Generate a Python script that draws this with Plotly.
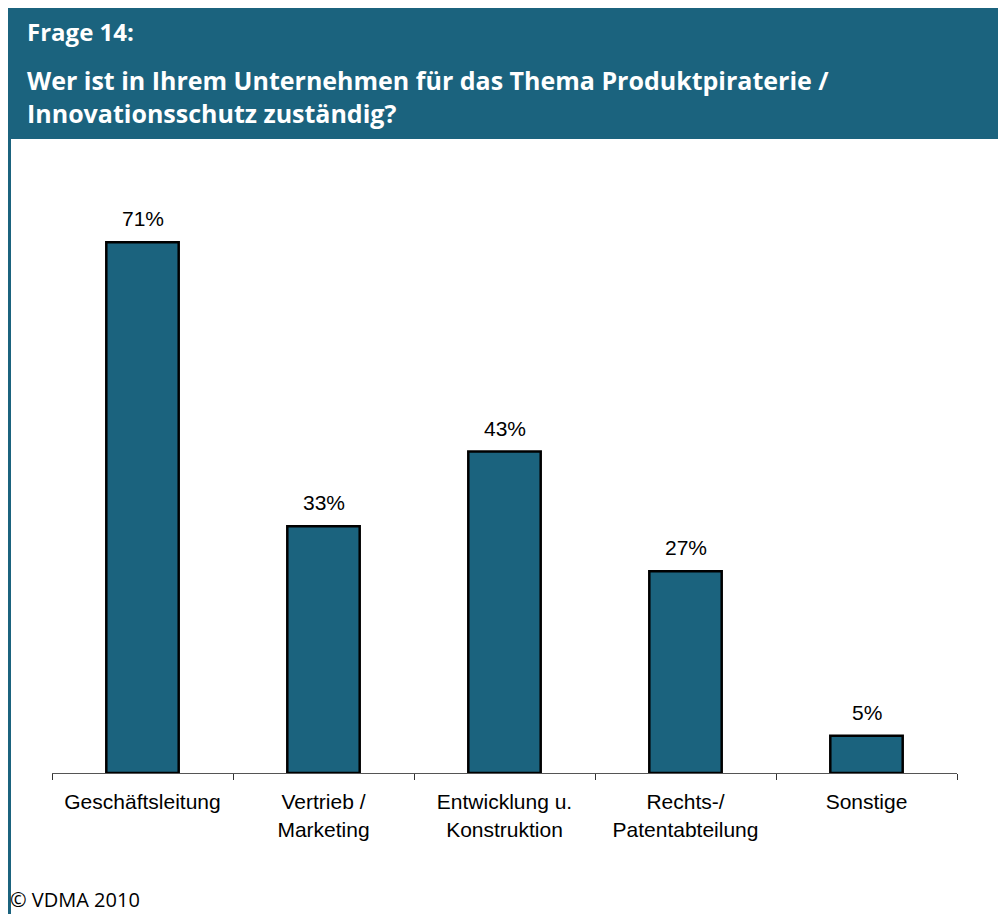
import plotly.graph_objects as go

categories = ["Geschäftsleitung", "Vertrieb /<br>Marketing", "Entwicklung u.<br>Konstruktion",
              "Rechts-/<br>Patentabteilung", "Sonstige"]
values = [71, 33, 43, 27, 5]
value_labels = ["71%", "33%", "43%", "27%", "5%"]

# the page body has an 8px margin, so the figure is sized to fit the window
OFF = 8
W, H = 1006 - OFF, 914 - OFF
BLUE = "#1b637e"


def px_x(x):
    return (x - OFF) / W


def px_y(y):
    return 1 - (y - OFF) / H


fig = go.Figure()
fig.add_trace(go.Bar(
    x=categories, y=values, width=0.4,
    marker=dict(color=BLUE, line=dict(color="black", width=2.5)),
    hoverinfo="skip", showlegend=False,
))

label_font = "Liberation Sans, Arial, sans-serif"
annotations = []
for c, v, t in zip(categories, values, value_labels):
    annotations.append(dict(x=c, y=v, xref="x", yref="y", text=t, showarrow=False,
                            yanchor="bottom", yshift=10,
                            font=dict(family=label_font, size=21, color="black")))

title_font = "Open Sans, Noto Sans, sans-serif"
annotations.append(dict(x=px_x(25), y=px_y(31), xref="paper", yref="paper", xanchor="left",
                        yanchor="middle", showarrow=False, text="<b>Frage 14:</b>",
                        font=dict(family=title_font, size=24, color="white")))
annotations.append(dict(x=px_x(25), y=px_y(96), xref="paper", yref="paper", xanchor="left",
                        yanchor="middle", showarrow=False, align="left",
                        text="<b>Wer ist in Ihrem Unternehmen für das Thema Produktpiraterie /<br>Innovationsschutz zuständig?</b>",
                        font=dict(family=title_font, size=25, color="white")))
annotations.append(dict(x=px_x(9), y=0, xref="paper", yref="paper", xanchor="left",
                        yanchor="bottom", showarrow=False, text="© VDMA 2010", borderpad=0,
                        font=dict(family=title_font, size=20, color="black")))

shapes = [
    dict(type="rect", xref="paper", yref="paper", x0=px_x(8), x1=px_x(1003), y0=px_y(139), y1=1,
         fillcolor=BLUE, line=dict(width=0), layer="below"),
    dict(type="line", xref="paper", yref="paper", x0=px_x(9.5), x1=px_x(9.5), y0=px_y(139), y1=0,
         line=dict(color=BLUE, width=3)),
    dict(type="line", xref="paper", yref="paper", x0=px_x(1000.5), x1=px_x(1000.5), y0=px_y(139), y1=0,
         line=dict(color=BLUE, width=3)),
]

fig.update_layout(
    width=W, height=H,
    margin=dict(l=0, r=0, t=0, b=0),
    paper_bgcolor="white", plot_bgcolor="white",
    annotations=annotations,
    shapes=shapes,
    xaxis=dict(domain=[px_x(52), px_x(957)], showline=True, linecolor="#555555", linewidth=1,
               ticks="outside", tickson="boundaries", ticklen=6, tickcolor="#333333",
               ticklabelstandoff=10,
               tickfont=dict(family=label_font, size=21, color="black"),
               showgrid=False, zeroline=False, fixedrange=True),
    yaxis=dict(domain=[px_y(773), px_y(175)], range=[0, 80], visible=False,
               showgrid=False, zeroline=False, fixedrange=True),
)

fig.write_html("out.html")
